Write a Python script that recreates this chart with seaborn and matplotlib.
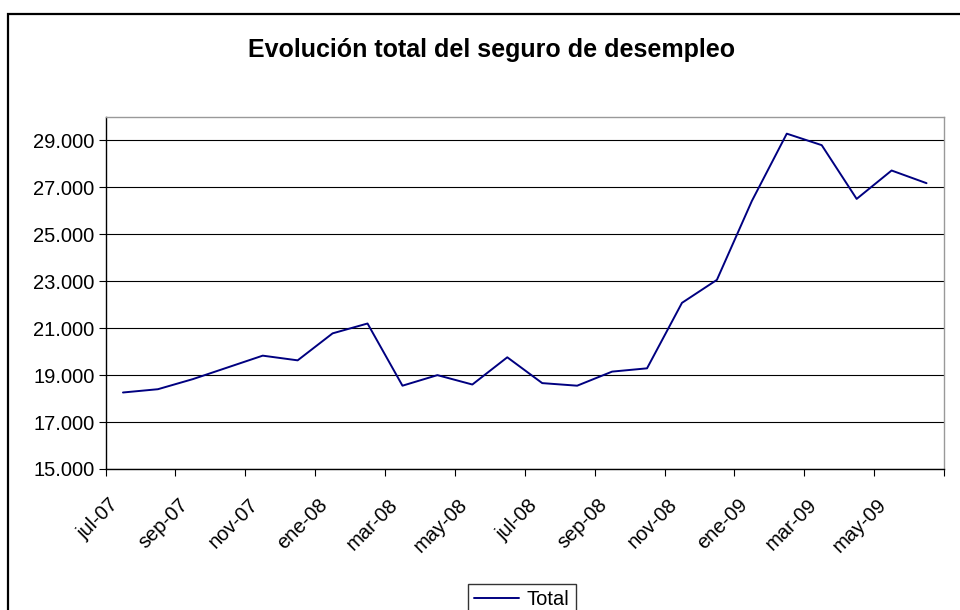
import matplotlib
matplotlib.use("Agg")
import matplotlib.pyplot as plt
import matplotlib.transforms as mtransforms
import seaborn as sns
import pandas as pd
import numpy as np
from matplotlib.patches import Rectangle
from matplotlib.ticker import FuncFormatter

months = ["jul-07", "ago-07", "sep-07", "oct-07", "nov-07", "dic-07",
          "ene-08", "feb-08", "mar-08", "abr-08", "may-08", "jun-08",
          "jul-08", "ago-08", "sep-08", "oct-08", "nov-08", "dic-08",
          "ene-09", "feb-09", "mar-09", "abr-09", "may-09", "jun-09"]
total = [18260, 18400, 18830, 19330, 19830, 19630,
         20780, 21200, 18550, 19000, 18600, 19760,
         18660, 18550, 19150, 19290, 22080, 23060,
         26420, 29290, 28800, 26510, 27720, 27180]
title = "Evolución total del seguro de desempleo"
series_name = "Total"

sns.set_theme(style="white")
plt.rcParams['font.family'] = ['Liberation Sans', 'DejaVu Sans']
plt.rcParams['text.color'] = 'black'
plt.rcParams['xtick.color'] = 'black'
plt.rcParams['ytick.color'] = 'black'
plt.rcParams['axes.labelcolor'] = 'black'

df = pd.DataFrame({"pos": np.arange(len(months)) + 0.5, "value": total,
                   "serie": series_name})

fig = plt.figure(figsize=(9.6, 6.1), dpi=100)
ax = fig.add_axes([105.5/960, 1-469/610, (944-105.5)/960, (469-117)/610])

sns.lineplot(data=df, x="pos", y="value", hue="serie", palette=["#000080"],
             linewidth=1.4, ax=ax, legend=True)

ax.set_xlim(0, len(months))
ax.set_ylim(15000, 30000)
ax.set_yticks(np.arange(15000, 30000, 2000))
ax.yaxis.set_major_formatter(FuncFormatter(lambda v, p: f"{int(v):,}".replace(",", ".")))
ax.yaxis.grid(True, color="black", linewidth=0.8)
ax.set_axisbelow(True)

xt = np.arange(0, len(months) + 1, 2)
ax.set_xticks(xt)
labels = [months[i] if i < len(months) else "" for i in xt]
ax.set_xticklabels(labels, rotation=45, ha="right", rotation_mode="anchor")
ax.set_xlabel("")
ax.set_ylabel("")

ax.tick_params(axis="both", which="both", direction="out", length=5, width=0.8,
               color="black", labelsize=14.5, bottom=True, left=True,
               labelcolor="black")
ax.tick_params(axis="x", pad=14)
ax.tick_params(axis="y", pad=3)
offset = mtransforms.ScaledTranslation(3/100, 0, fig.dpi_scale_trans)
for t in ax.get_xticklabels():
    t.set_transform(t.get_transform() + offset)

for s in ["left", "bottom"]:
    ax.spines[s].set_color("black")
    ax.spines[s].set_linewidth(1.0)
for s in ["top", "right"]:
    ax.spines[s].set_color("#999999")
    ax.spines[s].set_linewidth(1.0)

fig.text(492/960, 1-50/610, title, ha="center", va="center",
         fontsize=18, fontweight="bold", color="black")

# outer chart border
fig.add_artist(Rectangle((8/960, -0.05), 1.2, 1-14/610+0.05, transform=fig.transFigure,
                         fill=False, edgecolor="black", linewidth=1.6))

handles, lbls = ax.get_legend_handles_labels()
ax.get_legend().remove()
leg = fig.legend(handles, lbls, loc="upper center", bbox_to_anchor=(522/960, 1-574/610),
                 frameon=True, fontsize=14.5, fancybox=False, edgecolor="black",
                 handlelength=2.2, borderpad=0.3, handletextpad=0.4)
leg.get_frame().set_linewidth(1.0)

fig.savefig("out.png", dpi=100)
